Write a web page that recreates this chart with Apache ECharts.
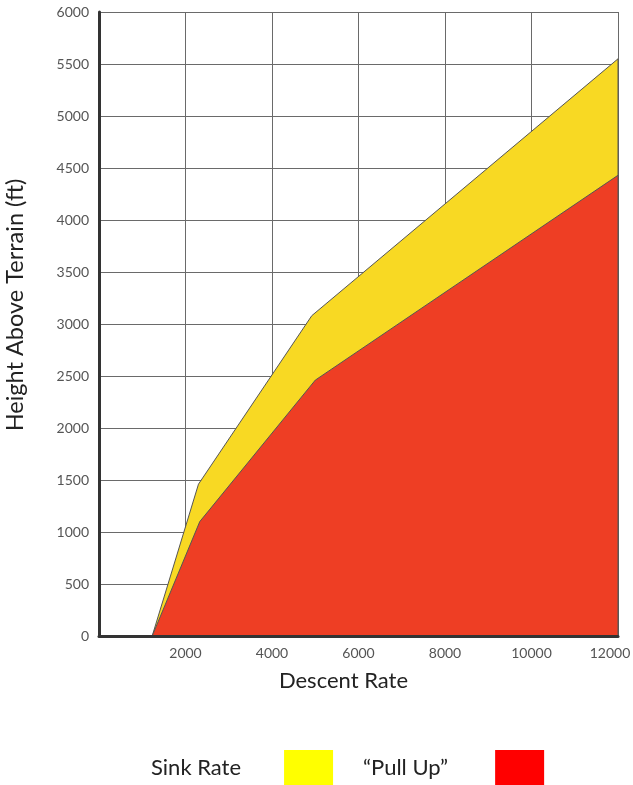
<!DOCTYPE html>
<html>
<head>
<meta charset="utf-8">
<script src="https://cdn.jsdelivr.net/npm/echarts@6/dist/echarts.min.js"></script>
<style>
html,body{margin:0;padding:0;background:#fff;}
#chart{width:633px;height:785px;}
</style>
</head>
<body>
<div id="chart"></div>
<script>
// Data
const seriesNames = ['Sink Rate', '\u201CPull Up\u201D'];
const sinkRateX = [1230, 2300, 4920, 12000, 12000];
const sinkRateY = [0, 1460, 3080, 5550, 0];
const pullUpX = [1230, 2330, 5000, 12000, 12000];
const pullUpY = [0, 1100, 2460, 4430, 0];
const xTicks = [0, 2000, 4000, 6000, 8000, 10000, 12000];
const yTicks = [0, 500, 1000, 1500, 2000, 2500, 3000, 3500, 4000, 4500, 5000, 5500, 6000];

const FONT = 'Lato';
const chart = echarts.init(document.getElementById('chart'));

const zip = (xs, ys) => xs.map((x, i) => [x, ys[i]]);
const xMax = xTicks[xTicks.length - 1];

const xBase = {
  type: 'value', min: xTicks[0], max: xMax, interval: xTicks[1] - xTicks[0]
};
const yBase = {
  type: 'value', min: yTicks[0], max: yTicks[yTicks.length - 1], interval: yTicks[1] - yTicks[0]
};

function legendOf(name, left, color, pad) {
  return {
    left: left, top: 750, padding: 0,
    icon: 'rect', itemWidth: 49, itemHeight: 36, align: 'right',
    selectedMode: false,
    data: [{ name: name, itemStyle: { color: color, borderWidth: 0 } }],
    textStyle: { color: '#222', fontFamily: FONT, fontSize: 22, padding: [0, pad, 0, 0] }
  };
}

chart.setOption({
  animation: false,
  backgroundColor: '#fff',
  textStyle: { fontFamily: FONT },
  grid: { left: 99, right: 15, top: 12, bottom: 149, containLabel: false, outerBoundsMode: 'none' },
  legend: [
    legendOf(seriesNames[0], 151, '#ffff00', 38),
    legendOf(seriesNames[1], 363, '#ff0000', 42)
  ],
  xAxis: [
    Object.assign({}, xBase, {
      name: 'Descent Rate', nameLocation: 'middle', nameGap: 34,
      nameTextStyle: { fontSize: 22, color: '#222', fontFamily: FONT, padding: [0, 30, 0, 0] },
      axisLine: { show: false }, axisTick: { show: false },
      axisLabel: { fontSize: 14, color: '#555', margin: 10, fontFamily: FONT,
        formatter: function (v) {
          if (v === 0) return '';
          if (v === xMax) return '{m|' + v + '}';
          return String(v);
        },
        rich: { m: { fontSize: 14, color: '#555', fontFamily: FONT, padding: [0, 16, 0, 0] } }
      },
      splitLine: { show: true, lineStyle: { color: '#6a6a6a', width: 1 } },
      z: 0
    }),
    Object.assign({}, xBase, {
      position: 'bottom',
      axisLine: { show: true, onZero: false, lineStyle: { color: '#333', width: 3 } },
      axisTick: { show: false }, axisLabel: { show: false }, splitLine: { show: false },
      z: 10
    })
  ],
  yAxis: [
    Object.assign({}, yBase, {
      name: 'Height Above Terrain (ft)', nameLocation: 'middle', nameGap: 72, nameRotate: 90,
      nameTextStyle: { fontSize: 23.5, color: '#222', fontFamily: FONT, padding: [0, 0, 0, 38] },
      axisLine: { show: true, lineStyle: { color: '#333', width: 3 } },
      axisTick: { show: false },
      axisLabel: { fontSize: 14, color: '#555', margin: 10, fontFamily: FONT,
        formatter: function (v) { return String(v); } },
      splitLine: { show: true, lineStyle: { color: '#6a6a6a', width: 1 } },
      z: 0
    })
  ],
  series: [
    {
      name: seriesNames[0], type: 'line', xAxisIndex: 0, yAxisIndex: 0,
      data: zip(sinkRateX, sinkRateY), symbol: 'none',
      lineStyle: { color: '#555', width: 1 },
      itemStyle: { color: '#ffff00' },
      areaStyle: { color: '#f8d923', opacity: 1 },
      z: 2
    },
    {
      name: seriesNames[1], type: 'line', xAxisIndex: 0, yAxisIndex: 0,
      data: zip(pullUpX, pullUpY), symbol: 'none',
      lineStyle: { color: '#555', width: 1 },
      itemStyle: { color: '#ff0000' },
      areaStyle: { color: '#ee3e24', opacity: 1 },
      z: 3
    }
  ]
});
</script>
</body>
</html>
